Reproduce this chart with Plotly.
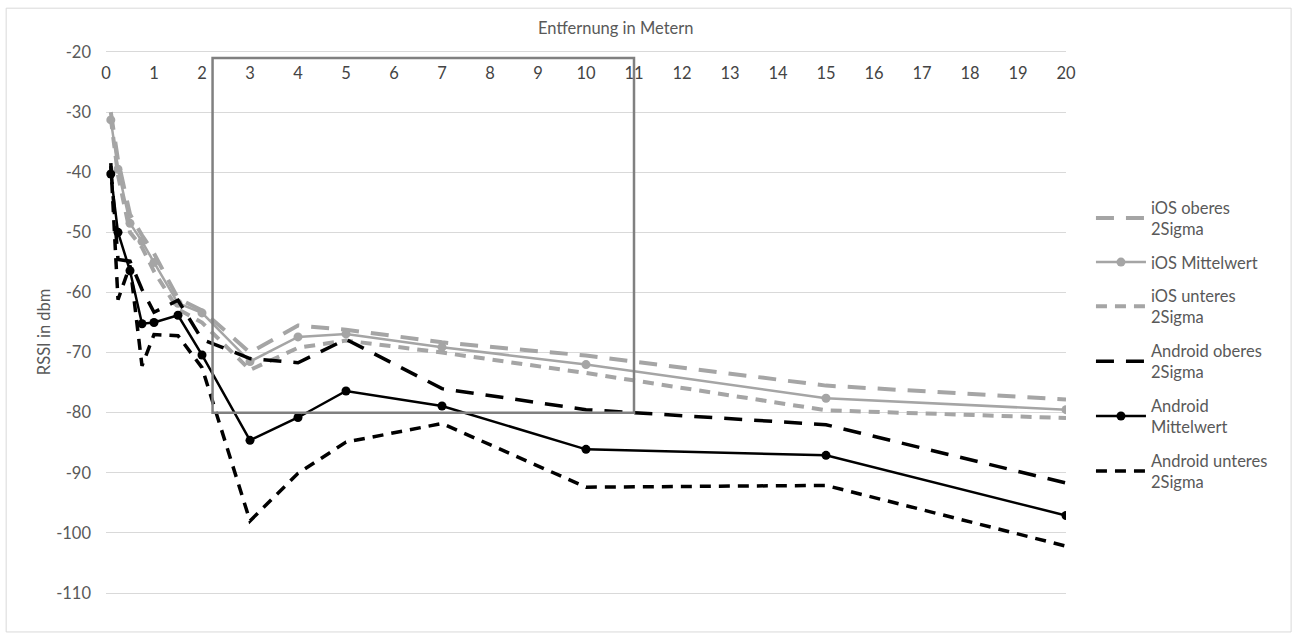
import plotly.graph_objects as go

# distances in metres
distance = [0.1, 0.25, 0.5, 0.75, 1, 1.5, 2, 3, 4, 5, 7, 10, 15, 20]

ios_upper = [-30.0, -38.0, -47.0, -50.5, -53.5, -61.0, -63.0, -70.0, -65.5, -66.2, -68.3, -70.5, -75.5, -77.8]
ios_mean = [-31.3, -39.5, -48.5, -51.5, -55.0, -61.8, -63.4, -71.5, -67.4, -66.9, -69.1, -72.0, -77.6, -79.5]
ios_lower = [-31.0, -40.5, -50.0, -52.5, -56.5, -62.8, -65.0, -72.9, -69.2, -68.0, -70.0, -73.4, -79.6, -80.9]

android_upper = [-39.0, -54.5, -54.8, -59.5, -63.3, -61.3, -67.8, -71.0, -71.7, -67.8, -76.0, -79.5, -82.0, -91.7]
android_mean = [-40.3, -50.0, -56.4, -65.2, -65.0, -63.8, -70.4, -84.6, -80.8, -76.4, -78.9, -86.1, -87.1, -97.1]
android_lower = [-38.5, -61.2, -55.5, -72.2, -67.0, -67.2, -72.5, -98.0, -90.1, -84.9, -81.8, -92.4, -92.1, -102.2]

series_names = [
    "iOS oberes<br>2Sigma",
    "iOS Mittelwert",
    "iOS unteres<br>2Sigma",
    "Android oberes<br>2Sigma",
    "Android<br>Mittelwert",
    "Android unteres<br>2Sigma",
]

x_ticks = list(range(0, 21))
y_ticks = list(range(-110, -10, 10))
y_tick_labels = [str(v) for v in y_ticks]

# highlighted region [x0, x1, y0, y1] in data units
highlight = [2.22, 11.0, -80.0, -21.0]

GRAY = "#a5a5a5"
BLACK = "#000000"
TEXT = "#595959"
FONT = "Lato"
FS = 16.5

fig = go.Figure()

styles = [
    (ios_upper, GRAY, "18px,12px", 4, False),
    (ios_mean, GRAY, "solid", 2.5, True),
    (ios_lower, GRAY, "11px,8px", 4, False),
    (android_upper, BLACK, "18px,12px", 3.5, False),
    (android_mean, BLACK, "solid", 2.5, True),
    (android_lower, BLACK, "11px,8px", 3.5, False),
]

for i, (vals, col, dash, w, mk) in enumerate(styles):
    fig.add_trace(go.Scatter(
        x=distance, y=vals, name=series_names[i],
        mode="lines+markers" if mk else "lines",
        line=dict(color=col, width=w, dash=dash),
        marker=dict(size=9, color=col) if mk else None,
        legendgroup=f"g{i}",
    ))

fig.add_shape(type="rect", xref="x", yref="y",
              x0=highlight[0], x1=highlight[1], y0=highlight[2], y1=highlight[3],
              line=dict(color="#808080", width=2.5), fillcolor="rgba(0,0,0,0)")

# chart border
fig.add_shape(type="rect", xref="paper", yref="paper",
              x0=-0.104, x1=1.2345, y0=-0.072, y1=1.081,
              line=dict(color="#d9d9d9", width=1), fillcolor="rgba(0,0,0,0)")

fig.add_annotation(text="Entfernung in Metern", xref="paper", yref="paper",
                   x=0.531, y=1.044, xanchor="center", yanchor="middle",
                   showarrow=False,
                   font=dict(family=FONT, size=FS, color=TEXT))
fig.add_annotation(text="RSSI in dbm", xref="paper", yref="paper",
                   x=-0.0646, y=0.484, xanchor="center", yanchor="middle",
                   textangle=-90, showarrow=False,
                   font=dict(family=FONT, size=FS, color=TEXT))

fig.update_layout(
    width=1298, height=639,
    margin=dict(l=106, r=232, t=52, b=46),
    paper_bgcolor="white", plot_bgcolor="white",
    font=dict(family=FONT, size=FS, color=TEXT),
    showlegend=True,
    legend=dict(x=1.026, y=0.745, xanchor="left", yanchor="top",
                tracegroupgap=9, itemwidth=50,
                font=dict(family=FONT, size=FS, color=TEXT),
                bgcolor="rgba(0,0,0,0)"),
    xaxis=dict(range=[0, 20], tickvals=x_ticks, side="top",
               ticklabelposition="inside", ticklabeloverflow="allow",
               ticklabelstandoff=16,
               showgrid=False, zeroline=False, showline=True, mirror=True,
               linecolor="#d9d9d9", linewidth=1, ticks=""),
    yaxis=dict(range=[-110, -20], tickvals=y_ticks, ticktext=y_tick_labels,
               showgrid=True, gridcolor="#d9d9d9", gridwidth=1, zeroline=False,
               showline=False, ticks="", ticklabelstandoff=14),
)

fig.write_html("out.html")
